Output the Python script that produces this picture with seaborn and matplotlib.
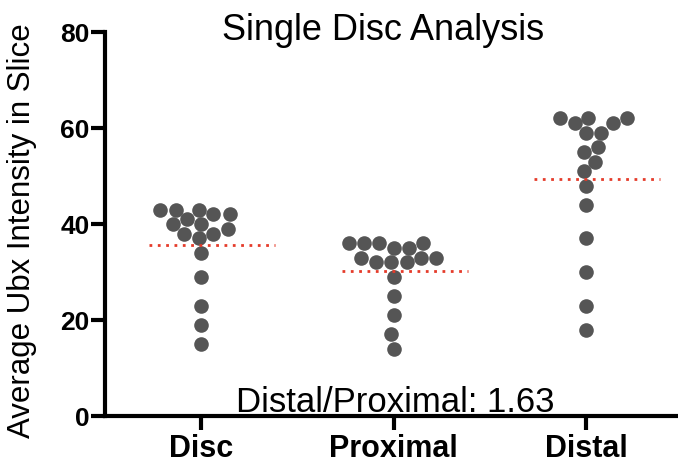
import numpy as np
import matplotlib
matplotlib.use('Agg')
import matplotlib.pyplot as plt
import pandas as pd
import seaborn as sns

# values
groups = ['Disc', 'Proximal', 'Distal']
disc = [43, 43, 42, 38, 40, 37, 39, 40, 41, 42, 43, 38, 34, 29, 23, 19, 15]
proximal = [36, 36, 35, 35, 36, 36, 33, 33, 32, 32, 32, 33, 29, 25, 21, 17, 14]
distal = [61, 62, 61, 62, 62, 59, 59, 56, 55, 53, 51, 48, 44, 37, 30, 23, 18]
y_ticks = [0, 20, 40, 60, 80]

df = pd.DataFrame({
    'group': ['Disc'] * len(disc) + ['Proximal'] * len(proximal) + ['Distal'] * len(distal),
    'value': disc + proximal + distal,
})
means = df.groupby('group')['value'].mean().reindex(groups)
ratio = means['Distal'] / means['Proximal']

sns.set_style('white')
plt.rcParams['font.family'] = ['Liberation Sans', 'DejaVu Sans']
plt.rcParams['text.color'] = 'black'
plt.rcParams['xtick.color'] = 'black'
plt.rcParams['ytick.color'] = 'black'

fig = plt.figure(figsize=(6.78, 4.69), dpi=100)
ax = fig.add_axes([105 / 678, 53 / 469, 573 / 678, 384 / 469])

sns.swarmplot(data=df, x='group', y='value', order=groups, color='#555555',
              size=10.5, ax=ax, zorder=2)

# mean lines (red dotted)
for i, g in enumerate(groups):
    ax.hlines(means[g], i - 0.27, i + 0.385, colors='#e53b2a', linestyles=(0, (1, 2)),
              linewidth=2, zorder=3)

ax.set_xlim(-0.5, 2.478)
ax.set_ylim(0, 80)
ax.set_yticks(y_ticks)
ax.set_xlabel('')
ax.set_ylabel('')
for s in ['top', 'right']:
    ax.spines[s].set_visible(False)
for s in ['left', 'bottom']:
    ax.spines[s].set_linewidth(3)
    ax.spines[s].set_color('black')
ax.tick_params(axis='both', which='both', length=10, width=3, color='black',
               direction='out', left=True, bottom=True)
ax.tick_params(axis='y', labelsize=19, pad=1)
ax.tick_params(axis='x', labelsize=22, pad=3)
for lab in ax.get_xticklabels() + ax.get_yticklabels():
    lab.set_fontweight('bold')

fig.text(22 / 678, 1 - 231 / 469, 'Average Ubx Intensity in Slice', fontsize=22.5,
         rotation=90, ha='center', va='center')
fig.text(383 / 678, 1 - 40 / 469, 'Single Disc Analysis', fontsize=26,
         ha='center', va='baseline')
fig.text(395 / 678, 1 - 412 / 469, f'Distal/Proximal: {ratio:.2f}', fontsize=25,
         ha='center', va='baseline')

fig.savefig('out.png', dpi=100)
